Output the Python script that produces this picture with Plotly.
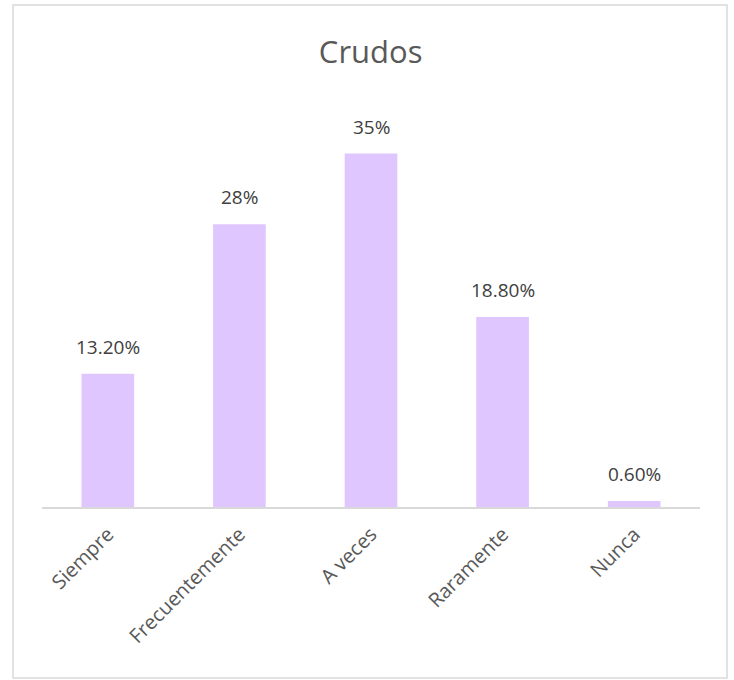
import plotly.graph_objects as go

categories = ["Siempre", "Frecuentemente", "A veces", "Raramente", "Nunca"]
values = [13.2, 28, 35, 18.8, 0.6]
labels = ["13.20%", "28%", "35%", "18.80%", "0.60%"]

fig = go.Figure(
    go.Bar(
        x=categories,
        y=values,
        marker=dict(color="#E0C6FF", line=dict(width=0)),
        width=0.4,
        hoverinfo="skip",
    )
)

for c, v, t in zip(categories, values, labels):
    fig.add_annotation(
        x=c, y=v, text=t, showarrow=False,
        yanchor="bottom", yshift=12,
        font=dict(family="Open Sans", size=19, color="#404040"),
    )

fig.update_layout(
    width=734,
    height=680,
    paper_bgcolor="white",
    plot_bgcolor="white",
    margin=dict(l=42, r=34, t=103, b=173),
    title=dict(
        text="Crudos",
        x=0.505,
        xanchor="center",
        y=1 - 52 / 680,
        yanchor="middle",
        font=dict(family="Open Sans", size=31, color="#595959"),
    ),
    showlegend=False,
)

fig.update_xaxes(
    tickangle=-45,
    tickfont=dict(family="Open Sans", size=20, color="#595959"),
    ticklabelstandoff=6,
    showline=True,
    linecolor="#D9D9D9",
    linewidth=1.5,
    ticks="",
    showgrid=False,
)
fig.update_yaxes(
    range=[0, 40],
    visible=False,
    showgrid=False,
    zeroline=False,
)

fig.add_shape(
    type="rect",
    xref="paper", yref="paper",
    x0=-29 / 658, x1=1 + 27 / 658,
    y0=-171 / 404, y1=1 + 98 / 404,
    line=dict(color="#D9D9D9", width=1.5),
    fillcolor="rgba(0,0,0,0)",
    layer="below",
)

fig.write_html(
    "out.html",
    config={"displayModeBar": False},
    post_script="document.body.style.margin='0';",
)
